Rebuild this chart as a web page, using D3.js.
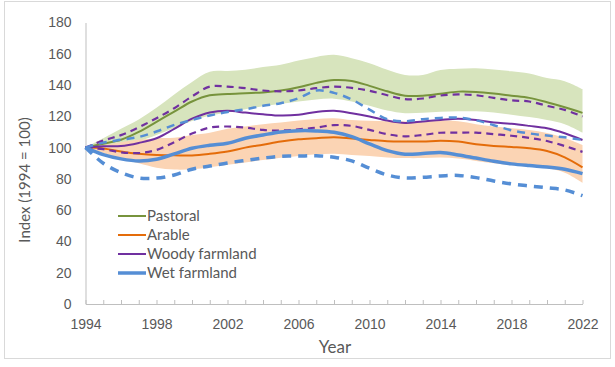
<!DOCTYPE html>
<html>
<head>
<meta charset="utf-8">
<script src="https://d3js.org/d3.v7.min.js"></script>
<style>
  body { margin: 0; background: #fff; }
  svg { display: block; font-family: Lato, "Liberation Sans", sans-serif; }
  .tick text { fill: #595959; }
</style>
</head>
<body>
<svg width="615" height="367"></svg>
<script>
// years 1994..2022
var years = d3.range(1994, 2023);

var pastoral      = [100,102.5,105,110,116.5,123,129.5,133.5,134.3,134.8,135.3,136.5,138.6,141.4,143.2,142.6,139.5,136,133.2,133.2,134.5,135.8,135.6,134.6,133.2,131.8,129,125.8,122.2];
var pastoralUpper = [100,106,112,118,125.5,134,142,148.5,149,149.8,151.5,153,155.7,158,159.3,157.2,154,149.8,146.5,146.5,149.7,150.5,150.8,150,148.8,147.4,144.5,142.5,137.4];
var pastoralLower = [100,100.5,101.5,104,108,112.5,117,120.5,122.5,124.5,126.5,128,129.5,130.8,131.3,129.5,126.7,123.7,122,122.3,123,123.3,123.2,122.5,121,119.5,117.7,115,109.6];

var arable      = [100,99.5,97.5,96,95.2,95.1,95,96,97.5,100,101.9,103.9,105.3,106,106.6,105.8,104.9,104.1,103.9,103.9,104.4,103.9,102.2,101.1,100.4,99.6,97.8,93.8,87.4];
var arableUpper = [100,101.5,103.5,105,106,106.3,108.1,109.5,112,113.5,115,116,117.3,118.3,118.8,117.6,117.2,116.8,116.7,116.9,117.6,116.8,115,113.5,112.4,111.2,109.4,106.2,101.7];
var arableLower = [100,96.5,93,90,87.2,86,86.2,87.5,89,90.5,92,93.5,94.7,95.7,96,95.3,94.7,93.7,93.3,93.3,93.6,93,91.5,90,88.8,87.8,86.8,84,77.6];

var woody      = [100,100.8,101,103,106,112,118.5,122.5,123.5,122.4,121.3,120.5,121,122.8,123.6,122,119.9,117.3,115.8,116.7,117.7,118.4,117.6,116,115.2,113.9,112.4,109.2,104.9];
var woodyUpper = [100,104.5,108,113,118.8,125.2,132.7,139,139,138,136.5,136,136.5,138,139,138.2,136.3,133.5,131,131.4,133.3,134,133.5,131.8,130.2,129.5,126.7,124.1,119.9];
var woodyLower = [100,99,97,96.5,98.5,103.5,109,112.8,113.5,112.8,111.3,110.9,111.7,112.8,114.4,113.9,111.3,108.6,107.2,108.1,109.5,109.6,109.6,108.6,107.6,106.2,104.2,101,97.3];

var wet      = [100,95.5,92.8,91.4,92.5,96,99.6,101.5,102.8,106,108.1,110,110.8,110.7,109.8,107,102.4,98.1,95.8,96.2,96.8,95.3,93.3,91.3,89.6,88.5,87.6,86.2,83.4];
var wetUpper = [100,103.2,105,106.8,110.3,114.5,117.7,120.5,122.8,124.5,126.7,128.4,131.6,136.5,135,130.8,124.3,118.2,116.9,118.2,119,119.2,117.5,114.3,111.1,109.1,107.7,106.6,104.9];
var wetLower = [100,90,84,80.6,80.5,82.5,86.2,88.2,90.2,91.8,93.3,94.5,94.6,94.8,93.8,91.5,86.8,82.5,80.6,81,81.9,82.2,80.8,78.7,76.8,75.5,74.3,72.9,69.3];

var legendNames = ["Pastoral", "Arable", "Woody farmland", "Wet farmland"];
var xTicks = [1994, 1998, 2002, 2006, 2010, 2014, 2018, 2022];
var yTicks = [0, 20, 40, 60, 80, 100, 120, 140, 160, 180];

var green = "#77933C", orange = "#E46C0A", purple = "#7030A0", blue = "#558ED5";

var svg = d3.select("svg");

// chart border
svg.append("rect").attr("x", 4.5).attr("y", 1.5).attr("width", 606).attr("height", 357)
  .attr("fill", "none").attr("stroke", "#D9D9D9");

var x = d3.scaleLinear().domain([1994, 2022]).range([85.5, 582.5]);
var y = d3.scaleLinear().domain([0, 180]).range([304, 22.5]);

function band(lo, hi, fill) {
  var area = d3.area()
    .x(function(d, i) { return x(years[i]); })
    .y0(function(d, i) { return y(lo[i]); })
    .y1(function(d, i) { return y(hi[i]); })
    .curve(d3.curveCatmullRom);
  svg.append("path").datum(lo).attr("d", area).attr("fill", fill);
}

function line(vals, color, width, dash) {
  var l = d3.line()
    .x(function(d, i) { return x(years[i]); })
    .y(function(d) { return y(d); })
    .curve(d3.curveCatmullRom);
  svg.append("path").datum(vals).attr("d", l)
    .attr("fill", "none").attr("stroke", color).attr("stroke-width", width)
    .attr("stroke-dasharray", dash || null);
}

band(pastoralLower, pastoralUpper, "#D7E4BD");
band(arableLower, arableUpper, "#FBD4B4");

// axes
var yAxis = svg.append("g").attr("transform", "translate(85.5,0)")
  .call(d3.axisLeft(y).tickValues(yTicks).tickSize(0).tickPadding(14));
yAxis.select(".domain").attr("stroke", "#BFBFBF");
yAxis.selectAll("text").style("font-size", "14px");

var xAxis = svg.append("g").attr("transform", "translate(0,304)")
  .call(d3.axisBottom(x).tickValues(years).tickSizeInner(-4).tickSizeOuter(0)
    .tickFormat(function(d) { return xTicks.indexOf(d) >= 0 ? d : ""; }).tickPadding(15));
xAxis.select(".domain").attr("stroke", "#BFBFBF");
xAxis.selectAll(".tick line").attr("stroke", "#BFBFBF");
xAxis.selectAll("text").style("font-size", "14px");

// lines
line(pastoral, green, 2);
line(arable, orange, 2);
line(woodyUpper, purple, 2.2, "7,5");
line(woodyLower, purple, 2.2, "7,5");
line(woody, purple, 2);
line(wetUpper, blue, 2.5, "8,6");
line(wetLower, blue, 3.5, "9,7");
line(wet, blue, 3.5);

// axis titles
svg.append("text").attr("x", 335).attr("y", 353).attr("text-anchor", "middle")
  .attr("fill", "#595959").style("font-size", "17px").text("Year");
svg.append("text").attr("transform", "translate(30,180) rotate(-90)").attr("text-anchor", "middle")
  .attr("fill", "#595959").style("font-size", "15px").text("Index (1994 = 100)");

// legend
var legColors = [green, orange, purple, blue];
var legWidths = [2, 2, 2, 3.5];
var leg = svg.append("g");
legendNames.forEach(function(name, i) {
  var ly = 216 + i * 19;
  leg.append("line").attr("x1", 118).attr("x2", 146).attr("y1", ly).attr("y2", ly)
    .attr("stroke", legColors[i]).attr("stroke-width", legWidths[i]);
  leg.append("text").attr("x", 147).attr("y", ly + 5).attr("fill", "#595959")
    .style("font-size", "15px").text(name);
});
</script>
</body>
</html>
